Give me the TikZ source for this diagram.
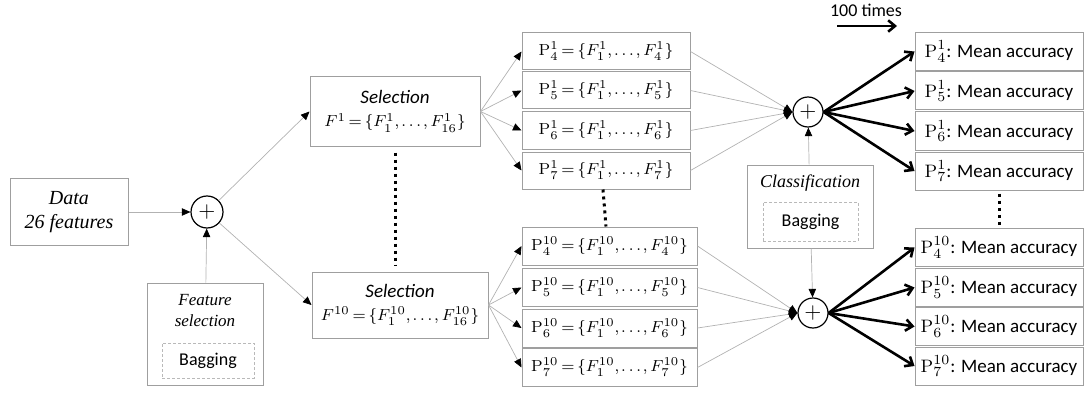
\documentclass[tikz,border=0pt]{standalone}
\usepackage[no-math]{fontspec}
\setmainfont{Carlito}
\newfontfamily\serifit{Liberation Serif}
\usetikzlibrary{positioning,arrows.meta}
\newcommand\fset[2]{\{F^{#1}_{1},\mkern-1mu\ldots\mkern-1mu,F^{#1}_{#2}\}}
\newcommand\eqs{\mskip3mu{=}\mskip3mu}

\begin{document}
\begin{tikzpicture}[
  x=0.5pt, y=-0.5pt,
  box/.style={draw=gray!75, line width=0.5pt, inner sep=0pt, align=center, font=\fontsize{9.5}{11.5}\selectfont},
  pbox/.style={box, minimum width=84pt, minimum height=18.5pt, font=\fontsize{8.3}{10}\selectfont},
  mbox/.style={box, minimum width=84pt, minimum height=19pt},
  bag/.style={draw=gray!55, dash pattern=on 1.5pt off 1pt, line width=0.3pt, inner sep=0pt, font=\fontsize{9}{11}\selectfont},
  lab/.style={font=\serifit\itshape\fontsize{8.5}{10.5}\selectfont, align=center},
  sum/.style={circle, draw, line width=0.6pt, inner sep=0pt, font=\fontsize{11}{11}\selectfont},
  arr/.style={-{Triangle[length=1.5mm, width=1.3mm, color=black]}, draw=gray!60, line width=0.35pt},
  big/.style={-{Straight Barb[length=1.2mm, width=2mm]}, line width=1.3pt},
  vdots/.style={line width=1.5pt, dash pattern=on 1.5pt off 2pt}]
  \useasboundingbox (0,0) rectangle (1091,401);
  \node[box, minimum width=59pt, minimum height=33.5pt, font=\serifit\itshape\fontsize{10}{12}\selectfont] (data) at (69,212) {Data\\26 features};
  \node[sum, minimum size=16pt] (s1) at (207,212) {$+$};
  \node[box, minimum width=58pt, minimum height=51pt] (fsel) at (205,334) {};
  \node[lab] (fsellab) at (205,311) {Feature\\selection};
  \node[bag, minimum width=46pt, minimum height=17.5pt] (fbag) at (208,360.5) {Bagging};
  \node[box, minimum width=85pt, minimum height=34.5pt] (sel1) at (395,111.5) {\textit{Selection}\\\fontsize{8.3}{10}\selectfont$F^{1}\eqs\fset{1}{16}$};
  \node[box, minimum width=88pt, minimum height=33pt] (sel10) at (400,305) {\textit{Selection}\\\fontsize{8.3}{10}\selectfont$F^{10}\eqs\fset{10}{16}$};
  \foreach \k/\y in {4/51.5,5/90.5,6/130.5,7/170.5}
    \node[pbox] (pa\k) at (606,\y) {$\mathrm{P}^{1}_{\k}\eqs\fset{1}{\k}$};
  \foreach \k/\y in {4/246,5/287.5,6/328,7/367.5}
    \node[pbox, minimum width=87.5pt, minimum height=19pt] (pb\k) at (609.5,\y) {$\mathrm{P}^{10}_{\k}\eqs\fset{10}{\k}$};
  \node[sum, minimum size=15pt] (s2) at (808,112) {$+$};
  \node[sum, minimum size=15pt] (s3) at (813,313) {$+$};
  \node[box, minimum width=63pt, minimum height=41.5pt] (cls) at (810,206.5) {};
  \node[lab, font=\serifit\itshape\fontsize{9}{11}\selectfont] (clslab) at (810,183) {Classification};
  \node[bag, minimum width=47.5pt, minimum height=19.5pt] (cbag) at (810.5,221.5) {Bagging};
  \foreach \k/\y in {4/51.5,5/91,6/131,7/171}
    \node[mbox] (ma\k) at (999,\y) {$\mathrm{P}^{1}_{\k}$: Mean accuracy};
  \foreach \k/\y in {4/247.5,5/287.5,6/326.5,7/366}
    \node[mbox] (mb\k) at (999,\y) {$\mathrm{P}^{10}_{\k}$: Mean accuracy};
  \node[font=\fontsize{9}{10}\selectfont] (times) at (866,10) {100 times};
  \coordinate (ta) at (837,26);
  \coordinate (tb) at (897,26);
  \draw[big] (ta) -- (tb);
  \draw[arr] (data) -- (s1);
  \draw[arr] (fsel) -- (s1);
  \draw[arr] (s1) -- (sel1.west);
  \draw[arr] (s1) -- (sel10.west);
  \foreach \k in {4,...,7} {
    \draw[arr] (sel1.east) -- (pa\k.west);
    \draw[arr] (sel10.east) -- (pb\k.west);
    \draw[arr] (pa\k.east) -- (s2.west);
    \draw[arr] (pb\k.east) -- (s3.west);
    \draw[big] (s2.east) -- (ma\k.west);
    \draw[big] (s3.east) -- (mb\k.west);
  }
  \draw[arr] (cls) -- (s2);
  \draw[arr] (cls) -- (s3);
  \draw[vdots, shorten <=3pt, shorten >=3pt] (sel1.south) -- (sel1.south |- sel10.north);
  \draw[vdots, shorten <=1.5pt, shorten >=1pt] (pa7.south) ++(-3,0) -- (pa7.south |- pb4.north) ++(-3,0);
  \draw[vdots, shorten <=1.5pt, shorten >=1pt] (ma7.south) -- (ma7.south |- mb4.north);
\end{tikzpicture}
\end{document}
